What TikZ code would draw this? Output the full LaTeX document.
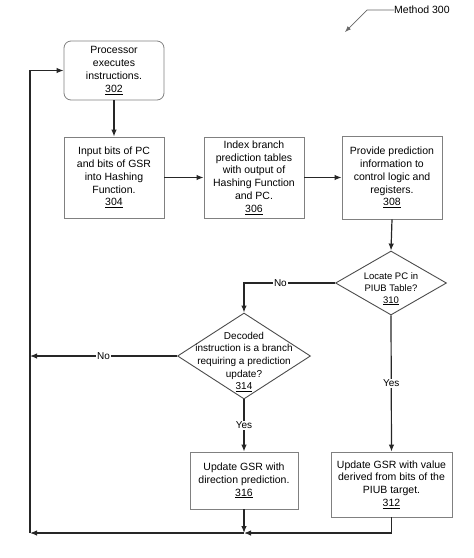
\documentclass[tikz,border=0pt]{standalone}
\usepackage{fontspec}
\setmainfont{Liberation Sans}
\usetikzlibrary{arrows.meta,shapes.geometric}
\begin{document}
\begin{tikzpicture}[x=1pt,y=-1pt,
  boxtxt/.style={font=\fontsize{10.5}{12.8}\selectfont, align=center},
  pbox/.style={draw=black!50, line width=0.8pt, inner sep=0pt, align=center,
    font=\fontsize{10.5}{12.8}\selectfont},
  dia/.style={draw=black!70, line width=0.9pt, diamond, inner sep=0pt},
  arr/.style={draw=black!85, line width=1.2pt, -{Latex[length=7pt,width=5.5pt]}},
  ln/.style={draw=black!85, line width=1.2pt},
  lbl/.style={fill=white, inner sep=1pt, font=\fontsize{10}{12}\selectfont}
]
\useasboundingbox (0,0) rectangle (474,558);

% Method label
\node[anchor=west, font=\fontsize{10.5}{12}\selectfont, inner sep=0pt] (m300) at (394,10) {Method 300};
\coordinate (mk) at (367,10);
\coordinate (mt) at (345,32);
\draw[draw=black!60, line width=0.7pt, -{Latex[length=6pt,width=4.5pt]}] (m300.west) -- (mk) -- (mt);

% Boxes
\node[pbox, rounded corners=7pt, minimum width=100pt, minimum height=59pt] (b302) at (114,70.5)
  {Processor\\executes\\instructions.\\\underline{302}};
\node[pbox, minimum width=100pt, minimum height=81pt] (b304) at (114,177.5)
  {Input bits of PC\\and bits of GSR\\into Hashing\\Function.\\\underline{304}};
\node[pbox, minimum width=100pt, minimum height=81pt] (b306) at (254,177.5)
  {Index branch\\prediction tables\\with output of\\Hashing Function\\and PC.\\\underline{306}};
\node[pbox, minimum width=100pt, minimum height=83pt] (b308) at (392,177.5)
  {Provide prediction\\information to\\control logic and\\registers.\\\underline{308}};

% Diamonds
\node[dia, minimum width=111pt, minimum height=64pt] (d310) at (391,283) {};
\node[align=center, font=\fontsize{9.5}{11.7}\selectfont, inner sep=0pt] (t310) at (391,289)
  {Locate PC in\\PIUB Table?\\\underline{310}};
\node[dia, minimum width=133pt, minimum height=86pt] (d314) at (244,356) {};
\node[align=center, font=\fontsize{10}{12.6}\selectfont, inner sep=0pt] (t314) at (244,362)
  {Decoded\\instruction is a branch\\requiring a prediction\\update?\\\underline{314}};

\node[pbox, minimum width=108pt, minimum height=57pt] (b316) at (244,480.5)
  {Update GSR with\\direction prediction.\\\underline{316}};
\node[pbox, minimum width=121pt, minimum height=65pt] (b312) at (391.5,484.5)
  {Update GSR with value\\derived from bits of the\\PIUB target.\\\underline{312}};

% Coordinates for loop
\coordinate (jn) at (244,533);
\coordinate (bl) at (30,533);
\coordinate (ml) at (30,356);

% Connectors
\draw[arr] (b302.south) -- (b304.north);
\draw[arr] (b304.east) -- (b306.west);
\draw[arr] (b306.east) -- (b308.west);
\draw[arr] (b308.south) -- (d310.north);
\draw[arr] (d310.west) -| node[lbl, pos=0.3] {No} (d314.north);
\draw[arr] (d310.south) -- node[lbl] {Yes} (b312.north);
\draw[arr] (d314.south) -- node[lbl] {Yes} (b316.north);
\draw[arr] (d314.west) -- node[lbl, pos=0.5] {No} (ml);
\draw[arr] (b316.south) -- (jn);
\draw[arr] (b312.south) |- (jn);
\draw[arr] (jn) -- (bl);
\draw[arr] (bl) |- (b302.west);
\end{tikzpicture}
\end{document}
